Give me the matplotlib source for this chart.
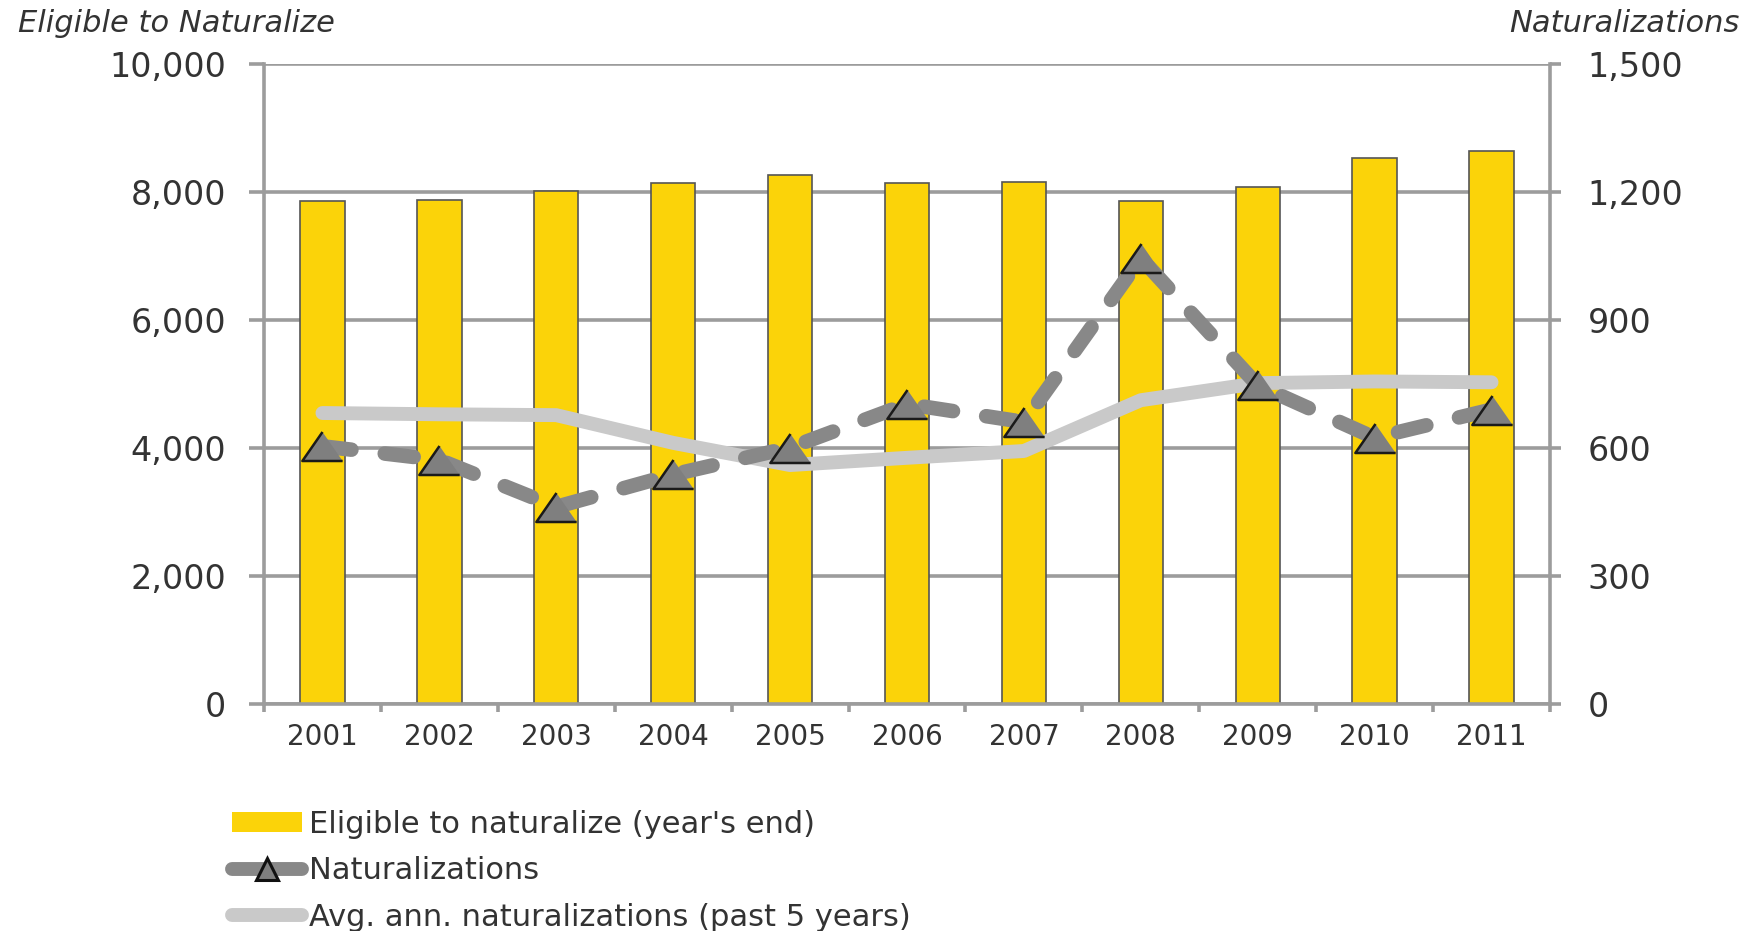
import matplotlib
matplotlib.use("Agg")
import matplotlib.pyplot as plt
from matplotlib.lines import Line2D
from matplotlib.patches import Patch
import numpy as np

plt.rcParams['font.family'] = ['DejaVu Sans']

# values
years = ['2001', '2002', '2003', '2004', '2005', '2006', '2007', '2008', '2009', '2010', '2011']
eligible = [7860, 7875, 8010, 8135, 8270, 8135, 8150, 7860, 8080, 8530, 8640]
naturalizations = [604, 572, 462, 538, 601, 703, 661, 1045, 747, 624, 690]
avg_5yr = [682, 679, 677, 612, 560, 577, 593, 712, 752, 756, 754]

yellow = '#fbd309'
grid_c = '#9c9c9c'
txt_c = '#333333'
dark_line = '#888888'
light_line = '#c9c9c9'

fig = plt.figure(figsize=(17.49, 9.31), dpi=100)
ax = fig.add_axes([264 / 1749, 1 - 704 / 931, (1550 - 264) / 1749, (704 - 64) / 931])
ax2 = ax.twinx()

x = np.arange(len(years))

# bars on the left axis
ax.bar(x, eligible, width=0.38, color=yellow, edgecolor='#555555', linewidth=1.2, zorder=2)
ax.set_ylim(0, 10000)
ax.set_xlim(-0.5, len(years) - 0.5)
ax.set_yticks(np.arange(0, 10001, 2000))
ax.set_yticklabels([f'{v:,}' for v in range(0, 10001, 2000)])
ax.yaxis.grid(True, color=grid_c, linewidth=2.6)
ax.set_axisbelow(True)

# lines on the right axis
tri = [(0, 0.72), (-1, -0.72), (1, -0.72)]
ax2.plot(x, avg_5yr, color=light_line, linewidth=10, solid_capstyle='round',
         solid_joinstyle='round', zorder=3)
ax2.plot(x, naturalizations, color=dark_line, linewidth=10.5, dashes=(2.0, 2.3),
         dash_capstyle='round', marker=tri, markersize=29, markerfacecolor='#7f7f7f',
         markeredgecolor='#1a1a1a', markeredgewidth=1.8, zorder=4)
ax2.set_ylim(0, 1500)
ax2.set_yticks(np.arange(0, 1501, 300))
ax2.set_yticklabels([f'{v:,}' for v in range(0, 1501, 300)])

for a in (ax, ax2):
    a.spines['top'].set_visible(False)
    for s in ('left', 'right', 'bottom'):
        a.spines[s].set_color(grid_c)
        a.spines[s].set_linewidth(2.6)
ax.spines['right'].set_visible(False)
ax2.spines['left'].set_visible(False)
ax2.spines['bottom'].set_visible(False)

ax.set_xticks(x)
ax.set_xticklabels(years)
ax.set_xticks(np.arange(-0.5, len(years), 1), minor=True)
ax.tick_params(axis='x', which='major', length=0, pad=14, labelsize=20, labelcolor=txt_c)
ax.tick_params(axis='x', which='minor', length=6, width=2.6, color=grid_c, direction='out')
ax.tick_params(axis='y', length=11, width=2.6, color=grid_c, pad=16, labelsize=24, labelcolor=txt_c)
ax2.tick_params(axis='y', length=8, width=2.6, color=grid_c, pad=19, labelsize=24, labelcolor=txt_c)

fig.text(18 / 1749, 1 - 24 / 931, 'Eligible to Naturalize', style='italic', fontsize=22,
         color=txt_c, ha='left', va='center')
fig.text(1740 / 1749, 1 - 24 / 931, 'Naturalizations', style='italic', fontsize=22,
         color=txt_c, ha='right', va='center')

handles = [
    Patch(facecolor=yellow, edgecolor='none'),
    Line2D([], [], color=dark_line, linewidth=10, solid_capstyle='round', marker='^',
           markersize=16, markerfacecolor='#7f7f7f', markeredgecolor='#111111', markeredgewidth=2.2),
    Line2D([], [], color=light_line, linewidth=10, solid_capstyle='round'),
]
labels = ["Eligible to naturalize (year's end)", 'Naturalizations',
          'Avg. ann. naturalizations (past 5 years)']
fig.legend(handles, labels, loc='upper left', bbox_to_anchor=(232 / 1749, 1 - 810 / 931),
           frameon=False, fontsize=22, handlelength=2.3, handleheight=0.65, handletextpad=0.22,
           labelspacing=0.57, borderpad=0, borderaxespad=0, labelcolor=txt_c)

fig.savefig('out.png', dpi=100)
